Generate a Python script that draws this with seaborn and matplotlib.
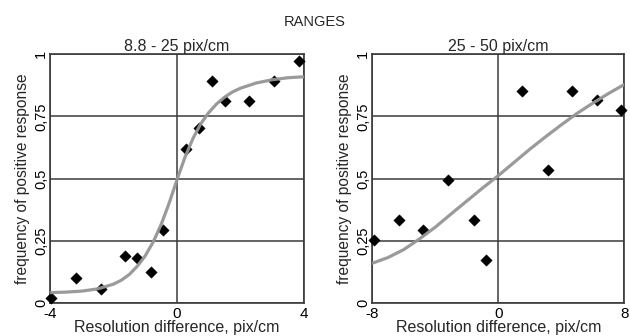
import numpy as np
import pandas as pd
import matplotlib
matplotlib.use('Agg')
import matplotlib.pyplot as plt
import seaborn as sns

# data
panel_titles = ['8.8 - 25 pix/cm', '25 - 50 pix/cm']

low_x = [-3.98, -3.18, -2.40, -1.64, -1.27, -0.83, -0.45, 0.30, 0.70, 1.11, 1.52, 2.28, 3.07, 3.85]
low_y = [0.02, 0.10, 0.055, 0.19, 0.18, 0.125, 0.295, 0.618, 0.704, 0.893, 0.812, 0.812, 0.893, 0.973]

low_fit_x = [-4, -3.5, -3, -2.5, -2, -1.75, -1.5, -1.25, -1, -0.75, -0.5, -0.25, 0,
             0.25, 0.5, 0.75, 1, 1.25, 1.5, 1.75, 2, 2.5, 3, 3.5, 4]
low_fit_y = [0.042, 0.044, 0.048, 0.057, 0.076, 0.092, 0.115, 0.148, 0.19, 0.245, 0.315, 0.40, 0.495,
             0.585, 0.66, 0.72, 0.765, 0.80, 0.827, 0.848, 0.863, 0.884, 0.897, 0.905, 0.909]

high_x = [-7.89, -6.29, -4.78, -3.17, -1.57, -0.78, 1.52, 3.13, 4.66, 6.24, 7.79]
high_y = [0.255, 0.332, 0.295, 0.493, 0.332, 0.174, 0.853, 0.536, 0.853, 0.815, 0.775]

high_fit_x = [-8, -7, -6, -5, -4, -3, -2, -1, 0, 1, 2, 3, 4, 5, 6, 7, 8]
high_fit_y = [0.16, 0.183, 0.215, 0.258, 0.305, 0.358, 0.41, 0.462, 0.512, 0.565,
              0.618, 0.668, 0.716, 0.762, 0.803, 0.842, 0.878]

y_ticks = [0, 0.25, 0.5, 0.75, 1]
y_tick_labels = ['0', '0,25', '0,5', '0,75', '1']
low_x_ticks = [-4, 0, 4]
high_x_ticks = [-8, 0, 8]

sns.set_style('white')
plt.rcParams['font.family'] = ['Liberation Sans', 'DejaVu Sans']
plt.rcParams['font.size'] = 11

fig = plt.figure(figsize=(6.3, 3.36), dpi=100)
ax1 = fig.add_axes([0.0794, 0.098, 0.403, 0.741])
ax2 = fig.add_axes([0.591, 0.098, 0.400, 0.741])

panels = [
    (ax1, low_x, low_y, low_fit_x, low_fit_y, low_x_ticks, panel_titles[0]),
    (ax2, high_x, high_y, high_fit_x, high_fit_y, high_x_ticks, panel_titles[1]),
]

frame_col = '#3a3a3a'
for ax, px, py, fx, fy, xt, title in panels:
    pts = pd.DataFrame({'x': px, 'y': py})
    fit = pd.DataFrame({'x': fx, 'y': fy})
    sns.scatterplot(data=pts, x='x', y='y', ax=ax, marker='D', s=34, color='black',
                    edgecolor='black', linewidth=0.3, zorder=3, clip_on=False)
    sns.lineplot(data=fit, x='x', y='y', ax=ax, color='#959595', linewidth=2.3,
                 zorder=4, alpha=0.95)
    ax.set_xlim(xt[0], xt[-1])
    ax.set_ylim(0, 1)
    ax.set_xticks(xt)
    ax.set_xticklabels([str(v) for v in xt])
    ax.set_yticks(y_ticks)
    ax.set_yticklabels(y_tick_labels, rotation=90, va='center')
    ax.tick_params(axis='x', length=0, pad=2.5, labelsize=11, colors='black')
    ax.tick_params(axis='y', length=0, pad=1.5, labelsize=10.5, colors='black')
    ax.grid(True, color=frame_col, linewidth=1.1)
    ax.set_axisbelow(True)
    for sp in ax.spines.values():
        sp.set_color(frame_col)
        sp.set_linewidth(1.2)
    ax.set_title(title, fontsize=11.5, pad=2)
    ax.set_xlabel('Resolution difference, pix/cm', fontsize=11.5, labelpad=-0.5)
    ax.set_ylabel('frequency of positive response', fontsize=11.2, labelpad=3)

fig.text(0.5, 0.935, 'RANGES', ha='center', va='center', fontsize=10.5)

plt.savefig('out.png', dpi=100)
